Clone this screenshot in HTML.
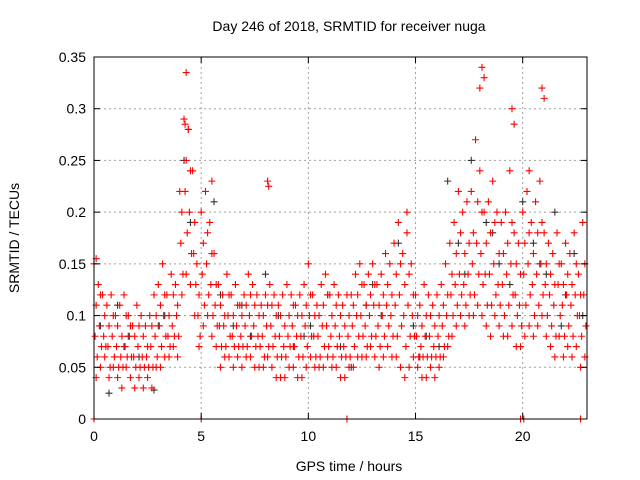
<!DOCTYPE html>
<html><head><meta charset="utf-8"><style>
body{margin:0;background:#fff;}
svg{display:block;font-family:"Liberation Sans",sans-serif;}
</style></head><body>
<svg id="chart" width="640" height="480">
<text x="349" y="31" font-size="14" text-anchor="middle">Day 246 of 2018, SRMTID for receiver nuga</text>
<text x="349" y="471" font-size="14" text-anchor="middle">GPS time / hours</text>
<text transform="translate(19,238) rotate(-90)" font-size="14" text-anchor="middle">SRMTID / TECUs</text>
<g id="grid"></g><g id="marks"></g><g id="axes"></g>
</svg>
<script>
const hours=[0,0.2,0.4,0.6,0.8,1,1.2,1.4,1.6,1.8,2,2.2,2.4,2.6,2.8,3,3.2,3.4,3.6,3.8,4,4.2,4.4,4.6,4.8,5,5.2,5.4,5.6,5.8,6,6.2,6.4,6.6,6.8,7,7.2,7.4,7.6,7.8,8,8.2,8.4,8.6,8.8,9,9.2,9.4,9.6,9.8,10,10.2,10.4,10.6,10.8,11,11.2,11.4,11.6,11.8,12,12.2,12.4,12.6,12.8,13,13.2,13.4,13.6,13.8,14,14.2,14.4,14.6,14.8,15,15.2,15.4,15.6,15.8,16,16.2,16.4,16.6,16.8,17,17.2,17.4,17.6,17.8,18,18.2,18.4,18.6,18.8,19,19.2,19.4,19.6,19.8,20,20.2,20.4,20.6,20.8,21,21.2,21.4,21.6,21.8,22,22.2,22.4,22.6,22.8];
const upperValues=[.15,.13,.12,.11,.12,.10,.11,.12,.10,.09,.11,.10,.09,.10,.12,.13,.15,.12,.14,.13,.22,.29,.28,.24,.15,.20,.22,.19,.16,.13,.12,.14,.12,.13,.11,.12,.14,.13,.12,.11,.12,.13,.12,.11,.12,.13,.12,.11,.12,.13,.15,.12,.11,.13,.14,.12,.13,.12,.11,.12,.12,.14,.15,.13,.14,.15,.13,.14,.16,.15,.17,.19,.16,.18,.15,.12,.11,.13,.12,.11,.12,.13,.15,.17,.19,.22,.20,.21,.22,.27,.24,.20,.21,.23,.20,.19,.20,.24,.18,.17,.20,.22,.19,.21,.23,.18,.17,.16,.18,.15,.17,.16,.18,.14,.19];
const upperMidValues=[.11,.12,.10,.09,.10,.09,.08,.10,.09,.08,.09,.08,.07,.09,.10,.11,.12,.10,.12,.11,.20,.25,.24,.19,.12,.17,.18,.16,.13,.11,.10,.12,.10,.11,.10,.11,.12,.11,.10,.10,.11,.11,.10,.10,.09,.10,.11,.10,.10,.11,.12,.10,.10,.11,.12,.10,.11,.10,.09,.10,.11,.12,.13,.11,.12,.13,.11,.12,.13,.12,.14,.15,.13,.14,.12,.10,.09,.10,.10,.09,.10,.11,.12,.14,.16,.18,.16,.17,.18,.21,.20,.17,.18,.19,.16,.16,.17,.19,.15,.14,.17,.18,.16,.18,.19,.15,.14,.13,.15,.13,.14,.13,.15,.12,.15];
const midValues=[.08,.09,.08,.07,.08,.07,.06,.07,.08,.06,.07,.06,.06,.07,.08,.09,.10,.08,.09,.10,.17,.22,.20,.16,.10,.14,.15,.13,.11,.09,.09,.10,.08,.09,.08,.09,.10,.09,.08,.08,.09,.09,.08,.08,.07,.08,.09,.08,.08,.09,.10,.08,.08,.09,.09,.08,.09,.08,.07,.08,.09,.10,.10,.09,.10,.11,.09,.10,.11,.10,.11,.12,.10,.11,.10,.08,.07,.08,.08,.07,.08,.09,.10,.12,.13,.14,.13,.14,.15,.17,.16,.14,.14,.15,.13,.13,.14,.15,.12,.11,.14,.15,.13,.14,.15,.13,.12,.11,.13,.11,.12,.11,.12,.10,.12];
const lowerMidValues=[.06,.07,.07,.05,.06,.05,.05,.06,.06,.05,.05,.05,.05,.05,.06,.07,.08,.07,.08,.08,.14,.18,.16,.13,.08,.11,.12,.10,.09,.07,.07,.08,.07,.07,.07,.07,.08,.07,.07,.06,.07,.07,.06,.06,.06,.07,.07,.06,.06,.07,.08,.06,.06,.07,.07,.06,.07,.06,.06,.06,.07,.08,.08,.07,.08,.08,.07,.08,.09,.08,.08,.09,.07,.08,.08,.06,.06,.06,.06,.06,.06,.07,.08,.10,.11,.12,.11,.12,.12,.14,.13,.11,.11,.12,.11,.10,.11,.12,.10,.09,.11,.12,.10,.11,.12,.10,.09,.08,.10,.08,.09,.08,.10,.08,.09];
const lowerValues=[.04,.05,.06,.04,.05,.04,.03,.05,.04,.03,.04,.03,.04,.03,.05,.05,.06,.06,.07,.06,.12,.14,.13,.10,.07,.09,.10,.08,.07,.05,.06,.06,.05,.06,.05,.06,.06,.05,.05,.05,.06,.05,.04,.04,.04,.05,.05,.04,.04,.05,.06,.05,.05,.05,.06,.05,.05,.04,.04,.05,.05,.06,.06,.06,.07,.06,.05,.06,.07,.06,.06,.05,.04,.05,.06,.05,.04,.04,.05,.04,.05,.06,.07,.08,.09,.10,.09,.10,.10,.11,.10,.09,.08,.10,.09,.08,.08,.09,.07,.07,.08,.09,.08,.09,.10,.08,.07,.06,.08,.06,.07,.06,.07,.05,.06];
const spikeHours=[4.25,4.3,4.4,8.1,8.15,18.0,18.1,18.2,19.5,19.6,20.9,21.0,14.6,0.1,5.5,20.3,0.0,5.0,11.8,19.9,20.05,22.7];
const spikeValues=[.285,.335,.28,.23,.225,.32,.34,.33,.30,.285,.32,.31,.20,.155,.23,.24,0,0,0,0,0,0];
const blackHours=[0.3,0.7,1.1,1.6,2.1,2.8,3.3,4.2,4.5,5.6,5.9,6.5,7.3,8.0,8.6,9.3,10.1,10.9,11.5,12.0,12.7,13.4,14.2,14.9,15.5,16.1,16.5,17.0,17.6,18.3,18.9,19.4,20.0,20.5,21.1,21.5,22.0,22.4,22.8,1.4,3.0,6.9,9.8,13.0,15.2,17.3,18.6,20.8,21.8];
const blackValues=[.09,.025,.11,.08,.06,.028,.10,.25,.19,.21,.12,.09,.08,.14,.10,.07,.09,.12,.07,.05,.11,.10,.17,.09,.08,.07,.23,.17,.25,.19,.15,.13,.21,.17,.14,.20,.12,.16,.10,.07,.09,.11,.08,.13,.06,.14,.18,.15,.09];
const yTicks=[0,0.05,0.1,0.15,0.2,0.25,0.3,0.35];
const yTickLabels=["0","0.05","0.1","0.15","0.2","0.25","0.3","0.35"];
const xTicks=[0,5,10,15,20];
const xTickLabels=["0","5","10","15","20"];

const L=94,R=587,T=57,B=419,XMAX=23,YMAX=0.35;
const xs=h=>L+h/XMAX*(R-L), ys=v=>B-v/YMAX*(B-T);
const NS="http://www.w3.org/2000/svg";
function mk(t,a,p){const e=document.createElementNS(NS,t);for(const k in a)e.setAttribute(k,a[k]);p.appendChild(e);return e;}
const grid=document.getElementById('grid'),marks=document.getElementById('marks'),axes=document.getElementById('axes');
yTicks.forEach((v,i)=>{
 if(v>0&&v<YMAX){const g=mk('line',{x1:L,x2:R,y1:ys(v),y2:ys(v),stroke:'#a0a0a0','stroke-dasharray':'2,3'},grid);
 
 }
 const t=mk('text',{x:L-8,y:ys(v)+5,'font-size':14,'text-anchor':'end'},axes);t.textContent=yTickLabels[i];
 
 
 mk('line',{x1:L,x2:L+6,y1:ys(v),y2:ys(v),stroke:'#000'},axes);
 mk('line',{x1:R,x2:R-6,y1:ys(v),y2:ys(v),stroke:'#000'},axes);
});
xTicks.forEach((h,i)=>{
 if(h>0){const g=mk('line',{x1:xs(h),x2:xs(h),y1:T,y2:B,stroke:'#a0a0a0','stroke-dasharray':'2,3'},grid);
 
 }
 const t=mk('text',{x:xs(h),y:B+22,'font-size':14,'text-anchor':'middle'},axes);t.textContent=xTickLabels[i];
 
 
 mk('line',{x1:xs(h),x2:xs(h),y1:B,y2:B-6,stroke:'#000'},axes);
 mk('line',{x1:xs(h),x2:xs(h),y1:T,y2:T+6,stroke:'#000'},axes);
});
const frame=mk('rect',{x:L,y:T,width:R-L,height:B-T,fill:'none',stroke:'#000'},axes);


function plus(h,v,col,name){
 const x=xs(h),y=ys(v);
 const p=mk('path',{d:`M${x-3.5},${y}H${x+3.5}M${x},${y-3.5}V${y+3.5}`,stroke:col,'stroke-width':1.1,fill:'none'},marks);
 
 
}
blackHours.forEach((h,i)=>plus(h,blackValues[i],'#333','black-point'));
hours.forEach((h,i)=>{
 plus(h,upperValues[i],'#f00','red-point-upper');
 plus(h+0.1,upperMidValues[i],'#f00','red-point-upper-mid');
 plus(h+0.05,midValues[i],'#f00','red-point-mid');
 plus(h+0.15,lowerMidValues[i],'#f00','red-point-lower-mid');
 plus(h+0.1,lowerValues[i],'#f00','red-point-lower');
});
spikeHours.forEach((h,i)=>plus(h,spikeValues[i],'#f00','red-point-spike'));
</script>
</body></html>
